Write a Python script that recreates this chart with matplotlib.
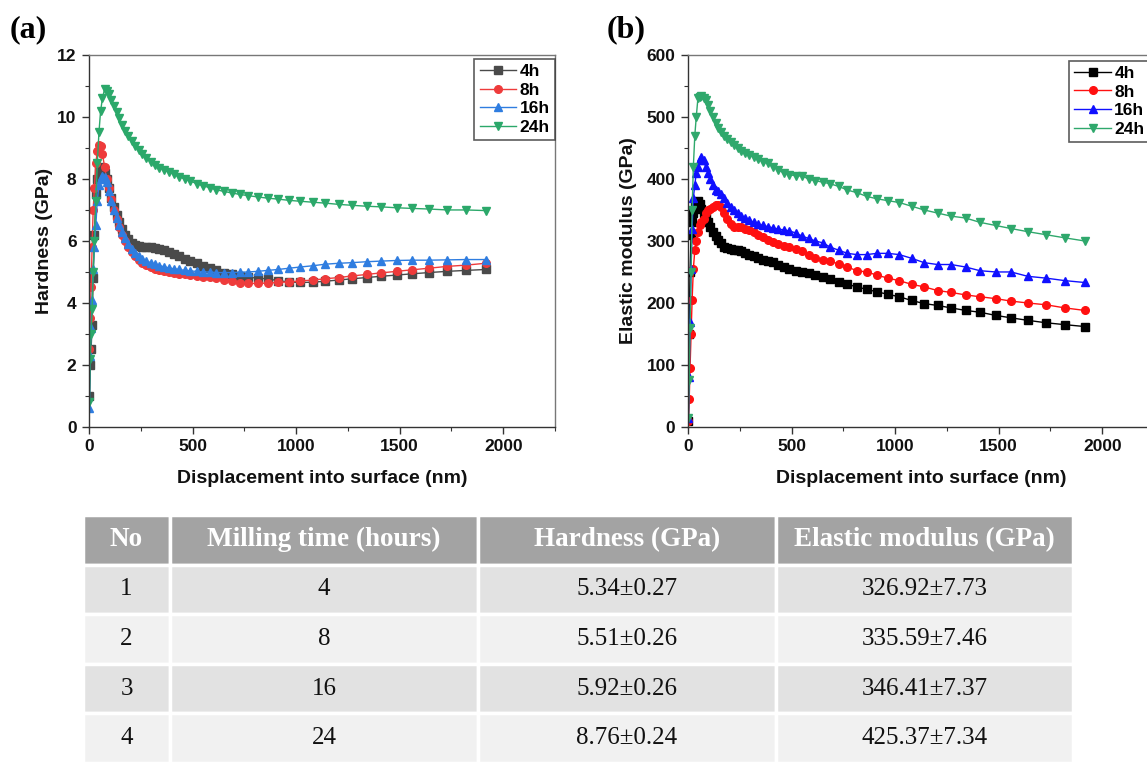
import matplotlib
matplotlib.use('Agg')
from matplotlib import pyplot as plt
from matplotlib.ticker import MultipleLocator

# displacement into surface (nm), shared by all curves
depth = [2, 6, 10, 15, 20, 26, 33, 40, 48, 56, 65, 75, 85, 96, 108, 120, 133, 146, 160, 175,
         190, 206, 222, 240, 258, 277, 297, 318, 340, 362, 385, 410, 435, 462, 490, 520, 550, 582, 615, 650,
         688, 728, 770, 815, 862, 912, 965, 1020, 1080, 1140, 1205, 1270, 1340, 1410, 1485, 1560, 1640, 1730, 1820, 1915]

labels = ['4h', '8h', '16h', '24h']

# hardness (GPa)
hard_4h = [1.0, 2.0, 2.5, 3.3, 4.8, 6.2, 7.5, 8.0, 8.3, 8.4, 8.35, 8.2, 8.0, 7.7, 7.4, 7.1, 6.85, 6.6, 6.4, 6.2,
           6.05, 5.95, 5.88, 5.85, 5.82, 5.8, 5.8, 5.78, 5.75, 5.7, 5.65, 5.58, 5.5, 5.42, 5.35, 5.28, 5.2, 5.13, 5.05, 4.98,
           4.92, 4.87, 4.83, 4.8, 4.78, 4.72, 4.68, 4.66, 4.67, 4.7, 4.74, 4.78, 4.82, 4.86, 4.9, 4.94, 4.98, 5.02, 5.05, 5.08]
hard_8h = [2.5, 3.5, 4.5, 5.8, 7.0, 7.7, 8.5, 8.9, 9.1, 9.05, 8.8, 8.4, 8.0, 7.7, 7.35, 7.0, 6.7, 6.45, 6.2, 6.0,
           5.8, 5.65, 5.5, 5.4, 5.3, 5.22, 5.15, 5.1, 5.05, 5.02, 5.0, 4.98, 4.95, 4.93, 4.9, 4.88, 4.85, 4.83, 4.8, 4.75,
           4.7, 4.65, 4.63, 4.63, 4.64, 4.66, 4.68, 4.71, 4.74, 4.78, 4.82, 4.87, 4.92, 4.97, 5.02, 5.07, 5.12, 5.18, 5.22, 5.28]
hard_16h = [0.6, 2.3, 3.2, 4.1, 5.1, 5.8, 6.5, 7.3, 7.8, 8.0, 8.1, 8.05, 7.9, 7.6, 7.3, 7.0, 6.75, 6.5, 6.3, 6.1,
            5.9, 5.75, 5.62, 5.5, 5.42, 5.35, 5.3, 5.25, 5.2, 5.17, 5.13, 5.1, 5.08, 5.05, 5.03, 5.02, 5.0, 5.0, 4.98, 4.98,
            4.98, 4.99, 5.0, 5.02, 5.05, 5.08, 5.12, 5.16, 5.2, 5.25, 5.28, 5.3, 5.33, 5.35, 5.37, 5.38, 5.38, 5.39, 5.4, 5.4]
hard_24h = [0.8, 2.2, 3.0, 3.8, 5.0, 6.0, 7.3, 8.5, 9.5, 10.2, 10.6, 10.9, 10.85, 10.75, 10.55, 10.35, 10.15, 9.95, 9.75, 9.55,
            9.38, 9.22, 9.07, 8.92, 8.8, 8.67, 8.56, 8.46, 8.36, 8.3, 8.22, 8.15, 8.07, 8.0, 7.93, 7.85, 7.78, 7.72, 7.65, 7.6,
            7.55, 7.5, 7.46, 7.42, 7.38, 7.35, 7.31, 7.28, 7.25, 7.22, 7.18, 7.15, 7.12, 7.1, 7.07, 7.05, 7.03, 7.0, 7.0, 6.98]

# elastic modulus (GPa)
mod_4h = [10, 150, 250, 310, 330, 345, 355, 362, 365, 360, 352, 345, 338, 330, 322, 315, 308, 302, 296, 290,
          288, 287, 286, 285, 283, 280, 277, 275, 272, 270, 268, 266, 262, 258, 255, 252, 250, 248, 245, 242,
          238, 234, 230, 226, 222, 218, 214, 210, 204, 199, 196, 192, 188, 185, 180, 176, 172, 168, 165, 162]
mod_8h = [10, 45, 95, 150, 205, 255, 285, 300, 315, 325, 330, 335, 345, 350, 352, 355, 358, 358, 355, 345,
          335, 328, 322, 322, 322, 320, 317, 314, 310, 306, 302, 298, 295, 292, 290, 287, 283, 278, 273, 270,
          267, 263, 258, 252, 250, 245, 240, 236, 230, 226, 220, 217, 213, 210, 207, 203, 200, 197, 192, 188]
mod_16h = [15, 80, 170, 255, 320, 370, 390, 410, 420, 430, 435, 430, 420, 410, 400, 390, 382, 380, 375, 370,
           362, 355, 350, 345, 340, 337, 333, 330, 327, 325, 323, 321, 319, 318, 316, 313, 308, 304, 300, 297,
           290, 285, 280, 278, 278, 280, 280, 278, 272, 265, 262, 262, 258, 252, 250, 250, 243, 240, 236, 233]
mod_24h = [15, 75, 160, 250, 350, 420, 470, 500, 530, 532, 533, 530, 528, 520, 510, 500, 490, 482, 475, 470,
           465, 460, 455, 450, 445, 442, 438, 435, 432, 428, 425, 420, 415, 410, 407, 405, 405, 400, 397, 395,
           392, 388, 382, 378, 372, 368, 365, 362, 356, 350, 345, 340, 337, 330, 325, 320, 315, 310, 305, 300]

# table
col_labels = ['No', 'Milling time (hours)', 'Hardness (GPa)', 'Elastic modulus (GPa)']
row_no = ['1', '2', '3', '4']
milling = ['4', '8', '16', '24']
hard_tab = ['5.34±0.27', '5.51±0.26', '5.92±0.26', '8.76±0.24']
mod_tab = ['326.92±7.73', '335.59±7.46', '346.41±7.37', '425.37±7.34']

markers = ['s', 'o', '^', 'v']
colors_a = ['#4a4a4a', '#ee3b3b', '#2f7de0', '#2ba86a']
colors_b = ['#000000', '#ff1010', '#1010ff', '#2fa86c']

sans = 'Liberation Sans'
serif = 'Liberation Serif'

fig = plt.figure(figsize=(11.47, 7.63), dpi=100)


def style_axes(ax, ylabel, ymax, ymajor, yminor, ylx):
    ax.set_xlim(0, 2250)
    ax.set_ylim(0, ymax)
    ax.xaxis.set_major_locator(MultipleLocator(500))
    ax.xaxis.set_minor_locator(MultipleLocator(250))
    ax.yaxis.set_major_locator(MultipleLocator(ymajor))
    ax.yaxis.set_minor_locator(MultipleLocator(yminor))
    ax.set_xticks([0, 500, 1000, 1500, 2000])
    ax.tick_params(which='major', direction='out', length=5, width=1, colors='#333333', labelsize=12.5,
                   labelcolor='#111111', pad=4)
    ax.tick_params(which='minor', direction='out', length=3, width=0.8, colors='#333333')
    for lab in ax.get_xticklabels() + ax.get_yticklabels():
        lab.set_fontfamily(sans)
        lab.set_fontweight('bold')
    for sp in ax.spines.values():
        sp.set_color('#777777')
        sp.set_linewidth(1)
    ax.spines['left'].set_color('#333333')
    ax.spines['bottom'].set_color('#333333')
    ax.set_xlabel('Displacement into surface (nm)', fontfamily=sans, fontweight='bold', fontsize=14,
                  color='#111111')
    ax.set_ylabel(ylabel, fontfamily=sans, fontweight='bold', fontsize=14, color='#111111')
    ax.xaxis.set_label_coords(0.5, -0.115)
    ax.yaxis.set_label_coords(ylx, 0.5)


# (a) hardness
ax1 = fig.add_axes([0.0776, 0.4404, 0.4063, 0.4876])
for ys, lab, m, c in zip([hard_4h, hard_8h, hard_16h, hard_24h], labels, markers, colors_a):
    ax1.plot(depth, ys, marker=m, color=c, markersize=5.5, linewidth=1, label=lab)
style_axes(ax1, 'Hardness (GPa)', 12, 2, 1, -0.078)
leg1 = ax1.legend(loc='upper left', bbox_to_anchor=(0.827, 0.99), frameon=True, fancybox=False,
                  edgecolor='#333333', handlelength=2.1, handletextpad=0.2, borderpad=0.3, labelspacing=0.2,
                  borderaxespad=0, prop={'family': sans, 'weight': 'bold', 'size': 12.5})
leg1.get_frame().set_linewidth(1.2)

# (b) elastic modulus
ax2 = fig.add_axes([0.5998, 0.4404, 0.4063, 0.4876])
for ys, lab, m, c in zip([mod_4h, mod_8h, mod_16h, mod_24h], labels, markers, colors_b):
    ax2.plot(depth, ys, marker=m, color=c, markersize=5.5, linewidth=1, label=lab)
style_axes(ax2, 'Elastic modulus (GPa)', 600, 100, 50, -0.11)
leg2 = ax2.legend(loc='upper left', bbox_to_anchor=(0.818, 0.985), frameon=True, fancybox=False,
                  edgecolor='#333333', handlelength=2.1, handletextpad=0.2, borderpad=0.3, labelspacing=0.2,
                  borderaxespad=0, prop={'family': sans, 'weight': 'bold', 'size': 12.5})
leg2.get_frame().set_linewidth(1.2)

fig.text(10 / 1147, 1 - 30 / 763, '(a)', fontfamily=serif, fontweight='bold', fontsize=23, va='center')
fig.text(607 / 1147, 1 - 30 / 763, '(b)', fontfamily=serif, fontweight='bold', fontsize=23, va='center')

# table
axt = fig.add_axes([83 / 1147, 0, (1073 - 83) / 1147, (763 - 515) / 763])
axt.axis('off')
cells = [[a, b, c, d] for a, b, c, d in zip(row_no, milling, hard_tab, mod_tab)]
row_cols = ['#e2e2e2', '#f1f1f1', '#e2e2e2', '#f1f1f1']
tab = axt.table(cellText=cells, colLabels=col_labels, cellLoc='center', bbox=[0, 0, 1, 1],
                colWidths=[87, 308, 297, 297],
                cellColours=[[rc] * 4 for rc in row_cols], colColours=['#a3a3a3'] * 4)
tab.auto_set_font_size(False)
for (r, c), cell in tab.get_celld().items():
    cell.set_edgecolor('white')
    cell.set_linewidth(2.5)
    txt = cell.get_text()
    txt.set_fontfamily(serif)
    if r == 0:
        txt.set_color('white')
        txt.set_fontweight('bold')
        txt.set_fontsize(19.5)
    else:
        txt.set_color('#111111')
        txt.set_fontsize(18)

fig.savefig('out.png', dpi=100)
